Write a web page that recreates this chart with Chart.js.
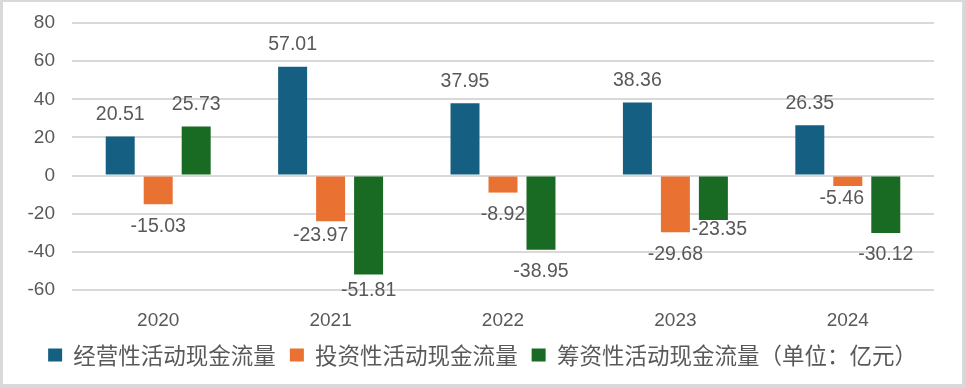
<!DOCTYPE html>
<html>
<head>
<meta charset="utf-8">
<script src="https://cdn.jsdelivr.net/npm/chart.js@4.4.1/dist/chart.umd.min.js"></script>
<style>
    html, body { margin: 0; padding: 0; background: #ffffff; }
    #wrap { position: relative; width: 965px; height: 388px; }
    #frame {
        position: absolute; left: 0; top: 0; width: 965px; height: 388px;
        box-sizing: border-box; pointer-events: none;
        border-style: solid; border-color: #d9d9d9;
        border-width: 2px 3px 4px 3px;
    }
</style>
</head>
<body>
<div id="wrap">
    <canvas id="cashflow-canvas" width="965" height="388"></canvas>
    <div id="frame"></div>
</div>
<script>
var years = ['2020', '2021', '2022', '2023', '2024'];
var operating = [20.51, 57.01, 37.95, 38.36, 26.35];
var investing = [-15.03, -23.97, -8.92, -29.68, -5.46];
var financing = [25.73, -51.81, -38.95, -23.35, -30.12];
var seriesNames = ['经营性活动现金流量', '投资性活动现金流量', '筹资性活动现金流量（单位：亿元）'];
var yTicks = [-60, -40, -20, 0, 20, 40, 60, 80];

var textGray = '#595959';

// value labels above / below each bar (no datalabels plugin available offline)
var valueLabels = {
    id: 'valueLabels',
    afterDatasetsDraw: function (chart, args, opts) {
        var ctx = chart.ctx;
        ctx.save();
        ctx.font = opts.font;
        ctx.fillStyle = opts.color;
        ctx.textAlign = 'center';
        ctx.textBaseline = 'middle';
        chart.data.datasets.forEach(function (ds, di) {
            chart.getDatasetMeta(di).data.forEach(function (bar, i) {
                var v = ds.data[i];
                var nudge = opts.nudge[di + '-' + i] || [0, 0];
                var y = v >= 0 ? bar.y - opts.offset : bar.y + opts.offset;
                ctx.fillText(v.toFixed(2), bar.x + nudge[0], y + nudge[1]);
            });
        });
        ctx.restore();
    }
};

var barConfig = {
    type: 'bar',
    data: {
        labels: years,
        datasets: [
            { label: seriesNames[0], data: operating, backgroundColor: '#156082' },
            { label: seriesNames[1], data: investing, backgroundColor: '#E97132' },
            { label: seriesNames[2], data: financing, backgroundColor: '#196B24' }
        ]
    },
    options: {
        responsive: false,
        animation: false,
        devicePixelRatio: 1,
        categoryPercentage: 0.661,
        barPercentage: 0.763,
        layout: { padding: { left: 0, right: 0, top: 23, bottom: 11.75 } },
        scales: {
            x: {
                grid: { display: false },
                border: { display: false },
                ticks: { color: textGray, font: { family: 'Liberation Sans', size: 19 }, padding: 11.5 },
                afterFit: function (scale) { scale.height = 39.75; }
            },
            y: {
                min: -60,
                max: 80,
                afterBuildTicks: function (scale) {
                    scale.ticks = yTicks.map(function (v) { return { value: v }; });
                },
                grid: { color: '#d9d9d9', lineWidth: 2, drawTicks: false },
                border: { display: false },
                ticks: { color: textGray, font: { family: 'Liberation Sans', size: 19 }, padding: 17 },
                afterFit: function (scale) {
                    scale.width = 72;
                    scale.paddingTop = 0;
                    scale.paddingBottom = 0;
                }
            },
            // empty right-hand axis: keeps the plot clear of the right edge while the legend stays centred
            yRight: {
                position: 'right',
                grid: { display: false },
                border: { display: false },
                ticks: { display: false },
                afterFit: function (scale) {
                    scale.width = 31;
                    scale.paddingTop = 0;
                    scale.paddingBottom = 0;
                }
            }
        },
        plugins: {
            legend: {
                position: 'bottom',
                labels: {
                    color: textGray,
                    font: { family: 'Noto Sans CJK SC', size: 22.5 },
                    boxWidth: 14,
                    boxHeight: 13,
                    padding: 14
                }
            },
            tooltip: { enabled: false },
            valueLabels: {
                font: '19.5px "Liberation Sans"',
                color: textGray,
                offset: 22,
                nudge: { '1-1': [-10, -8], '2-1': [0, -6], '2-3': [6, -12], '1-4': [-6, -9] }
            }
        }
    },
    plugins: [valueLabels]
};

var ctx = document.getElementById('cashflow-canvas').getContext('2d');
window.cashflowChart = new Chart(ctx, barConfig);
</script>
</body>
</html>
